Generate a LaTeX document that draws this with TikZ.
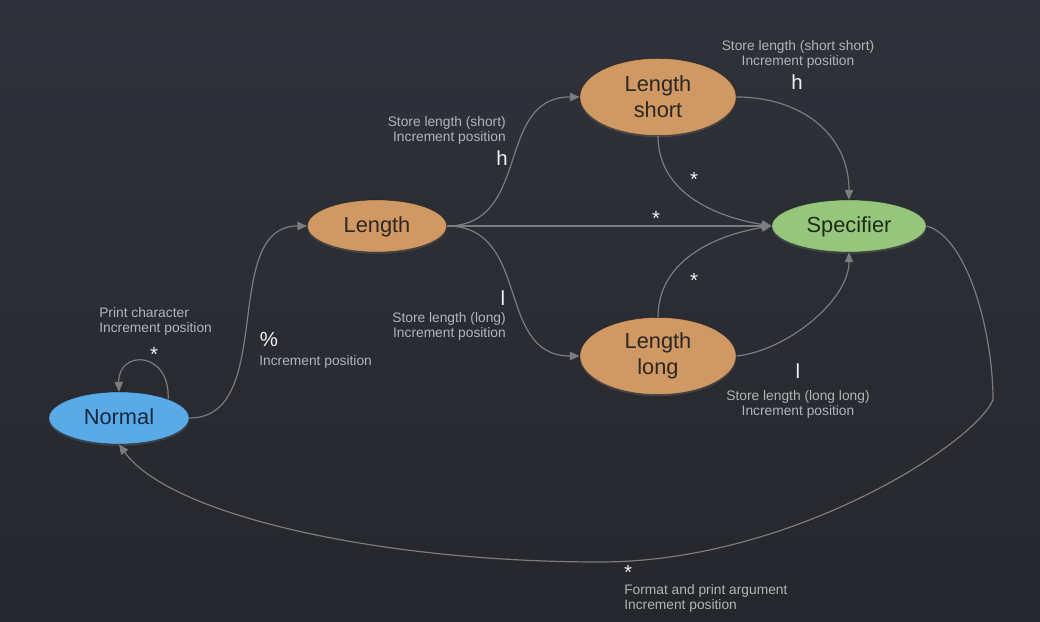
\documentclass[tikz,border=0pt]{standalone}
\usepackage{fontspec}
\setmainfont{Liberation Sans}
\usetikzlibrary{arrows.meta,shapes.geometric,shadows}

\definecolor{bgtop}{HTML}{2F323A}
\definecolor{bgmid}{HTML}{343740}
\definecolor{bgbot}{HTML}{25272C}
\definecolor{edgegray}{HTML}{7C7C7C}
\definecolor{notegray}{HTML}{B2B4B8}
\definecolor{symwhite}{HTML}{F2F2F2}
\definecolor{normalblue}{HTML}{5AAAE8}
\definecolor{normaltext}{HTML}{17283C}
\definecolor{lenorange}{HTML}{D09862}
\definecolor{lentext}{HTML}{2C2723}
\definecolor{specgreen}{HTML}{95C67C}
\definecolor{spectext}{HTML}{1E2A18}

\tikzset{
	state/.style={ellipse,inner sep=0pt,draw=black,draw opacity=0.35,line width=0.5pt,
		font=\fontsize{15.5}{18.4}\selectfont,align=center,
		drop shadow={opacity=0.3,shadow xshift=0pt,shadow yshift=-1.2pt}},
	oneline/.style={text height=11.5pt,text depth=2pt},
	trans/.style={draw=edgegray,line width=0.85pt,-{Triangle[length=7pt,width=6pt]}},
	note/.style={text=notegray,font=\fontsize{9.8}{10.8}\selectfont,inner sep=0pt},
	sym/.style={text=symwhite,font=\fontsize{14.5}{16}\selectfont,inner sep=0pt,anchor=base},
}

\begin{document}
\begin{tikzpicture}[x=0.025cm,y=-0.025cm]
	%Nền
	\shade[top color=bgtop,middle color=bgmid,bottom color=bgbot] (0,0) rectangle (1040,622);
	\useasboundingbox (0,0) rectangle (1040,622);
	
	%Trạng thái
	\node[state,oneline,fill=normalblue,text=normaltext,minimum width=3.5cm,minimum height=1.3cm] (normal) at (119,418) {Normal};
	\node[state,oneline,fill=lenorange,text=lentext,minimum width=3.475cm,minimum height=1.3cm] (length) at (377,226) {Length};
	\node[state,fill=lenorange,text=lentext,minimum width=3.9cm,minimum height=1.925cm] (lshort) at (658,97) {Length\\short};
	\node[state,fill=lenorange,text=lentext,minimum width=3.9cm,minimum height=1.925cm] (llong) at (658,356) {Length\\long};
	\node[state,oneline,fill=specgreen,text=spectext,minimum width=3.85cm,minimum height=1.3cm] (spec) at (849,226) {Specifier};
	
	%Điểm uốn
	\coordinate (bend) at (993,400);
	\coordinate (low) at (600,562);
	
	%Mũi tên
	\draw[trans] (normal.21) .. controls +(2,-49) and +(-1,-42) .. (normal.north);
	\draw[trans] (normal.east) .. controls +(88,0) and +(-88,0) .. (length.west);
	\draw[trans] (length.east) .. controls +(85,0) and +(-85,0) .. (lshort.west);
	\draw[trans] (length.east) .. controls +(85,0) and +(-85,0) .. (llong.west);
	\draw[trans] (length.east) -- (spec.west);
	\draw[trans] (lshort.east) .. controls +(65,0) and +(0,-65) .. (spec.north);
	\draw[trans] (lshort.south) .. controls +(0,60) and +(-50,-8) .. (spec.west);
	\draw[trans] (llong.north) .. controls +(0,-60) and +(-50,8) .. (spec.west);
	\draw[trans] (llong.east) .. controls +(50,-5) and +(0,48) .. (spec.south);
	\draw[trans] (spec.east) .. controls +(40,10) and +(0,-70) .. (bend)
		.. controls +(-20,45) and +(190,0) .. (low)
		.. controls +(-220,0) and +(51,71) .. (normal.south);
	
	%Nhãn
	\node[note,anchor=north west,align=left] (pcnote) at (99,307) {Print character\\Increment position};
	\node[sym] (pcsym) at (154,362) {*};
	\node[sym] (pctsym) at (269,347) {\%};
	\node[note,anchor=north west,align=left] (pctnote) at (259,355) {Increment position};
	\node[note,anchor=north east,align=right] (hnote) at (506,116) {Store length (short)\\Increment position};
	\node[sym] (hsym) at (502,166) {h};
	\node[sym] (dsym) at (656,226) {*};
	\node[sym] (ssym) at (694,187) {*};
	\node[sym] (lgsym) at (694,288) {*};
	\node[sym] (lsym) at (503,306) {l};
	\node[note,anchor=north east,align=right] (lnote) at (506,312) {Store length (long)\\Increment position};
	\node[note,anchor=north,align=center] (hhnote) at (798,40) {Store length (short short)\\Increment position};
	\node[sym] (hhsym) at (797,90) {h};
	\node[sym] (llsym) at (798,379) {l};
	\node[note,anchor=north,align=center] (llnote) at (798,390) {Store length (long long)\\Increment position};
	\node[sym] (fmtsym) at (628,579) {*};
	\node[note,anchor=north west,align=left] (fmtnote) at (624,584) {Format and print argument\\Increment position};
\end{tikzpicture}
\end{document}
